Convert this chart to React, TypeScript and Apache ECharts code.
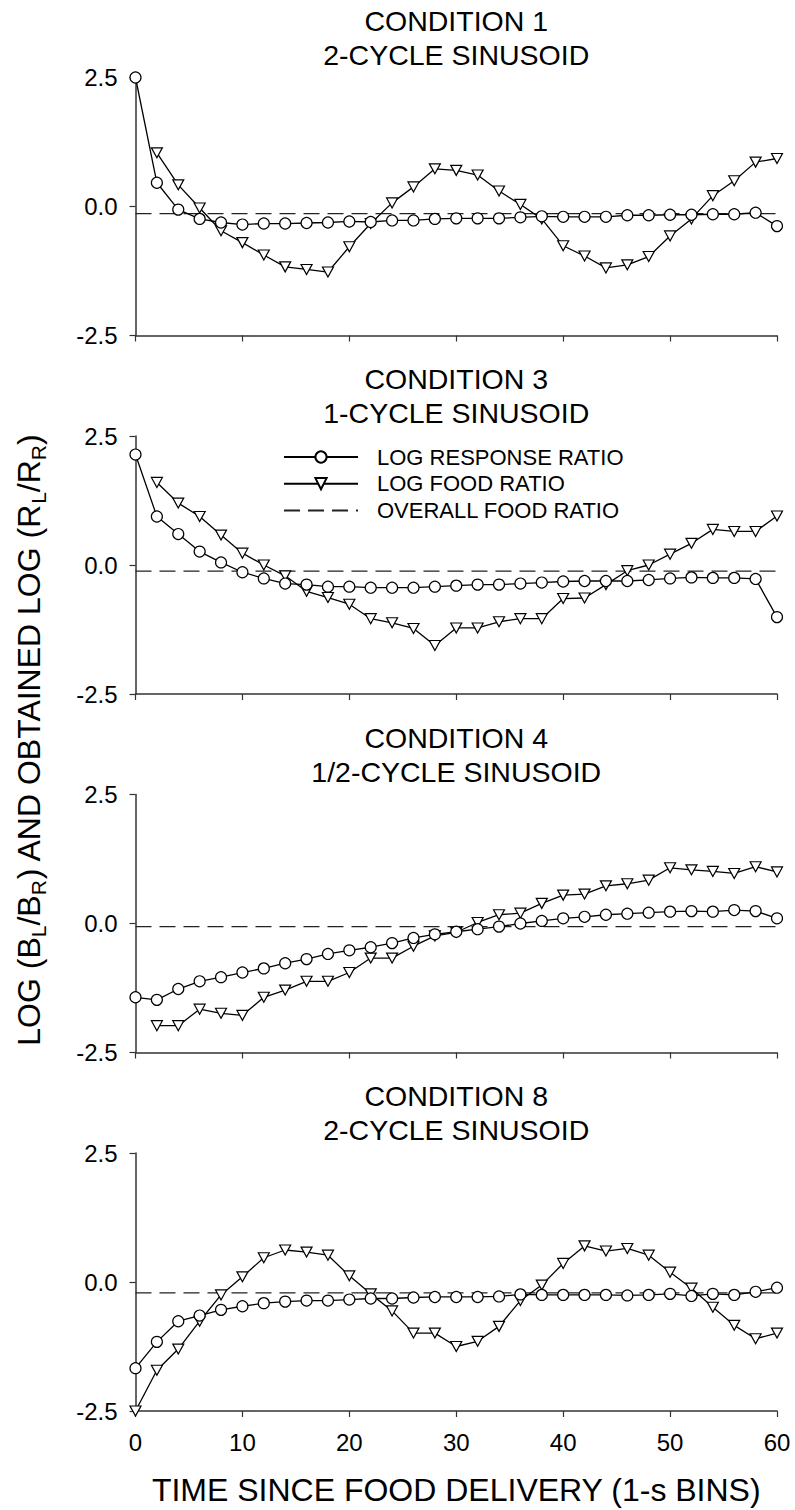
import React, { useEffect, useRef } from "react";
import * as echarts from "echarts";

// ---------- DATA ----------
const X_RESP = [0, 2, 4, 6, 8, 10, 12, 14, 16, 18, 20, 22, 24, 26, 28, 30, 32, 34, 36, 38, 40, 42, 44, 46, 48, 50, 52, 54, 56, 58, 60];
const X_FOOD = [2, 4, 6, 8, 10, 12, 14, 16, 18, 20, 22, 24, 26, 28, 30, 32, 34, 36, 38, 40, 42, 44, 46, 48, 50, 52, 54, 56, 58, 60];
const X_FOOD_C8 = [0, 2, 4, 6, 8, 10, 12, 14, 16, 18, 20, 22, 24, 26, 28, 30, 32, 34, 36, 38, 40, 42, 44, 46, 48, 50, 52, 54, 56, 58, 60];

const PANEL_TITLES = ["CONDITION 1", "CONDITION 3", "CONDITION 4", "CONDITION 8"];
const PANEL_SUBTITLES = ["2-CYCLE SINUSOID", "1-CYCLE SINUSOID", "1/2-CYCLE SINUSOID", "2-CYCLE SINUSOID"];

const C1_RESP = [2.5, 0.46, -0.06, -0.24, -0.31, -0.35, -0.33, -0.33, -0.32, -0.31, -0.29, -0.3, -0.27, -0.27, -0.24, -0.23, -0.23, -0.23, -0.21, -0.19, -0.2, -0.2, -0.2, -0.17, -0.17, -0.16, -0.16, -0.15, -0.15, -0.12, -0.38];
const C1_FOOD = [1.04, 0.42, -0.03, -0.47, -0.7, -0.94, -1.17, -1.22, -1.27, -0.78, -0.33, 0.07, 0.38, 0.73, 0.7, 0.61, 0.3, 0.04, -0.24, -0.76, -0.96, -1.19, -1.13, -0.97, -0.57, -0.24, 0.21, 0.5, 0.86, 0.93];
const C1_OVERALL = -0.14;

const C3_RESP = [2.14, 0.94, 0.6, 0.26, 0.05, -0.14, -0.26, -0.36, -0.38, -0.42, -0.42, -0.44, -0.44, -0.44, -0.42, -0.4, -0.38, -0.38, -0.36, -0.34, -0.32, -0.31, -0.31, -0.31, -0.29, -0.26, -0.24, -0.25, -0.25, -0.27, -1.01];
const C3_FOOD = [1.6, 1.2, 0.94, 0.58, 0.23, 0.0, -0.21, -0.51, -0.63, -0.76, -1.04, -1.12, -1.23, -1.56, -1.22, -1.22, -1.1, -1.04, -1.04, -0.65, -0.64, -0.38, -0.11, 0.0, 0.21, 0.42, 0.69, 0.65, 0.65, 0.95];
const C3_OVERALL = -0.12;

const C4_RESP = [-1.43, -1.48, -1.27, -1.12, -1.04, -0.95, -0.87, -0.77, -0.69, -0.59, -0.52, -0.46, -0.38, -0.28, -0.21, -0.16, -0.11, -0.06, 0.0, 0.05, 0.1, 0.13, 0.17, 0.19, 0.21, 0.23, 0.24, 0.23, 0.26, 0.24, 0.1];
const C4_FOOD = [-1.98, -1.98, -1.66, -1.74, -1.78, -1.43, -1.29, -1.12, -1.12, -0.95, -0.67, -0.67, -0.44, -0.24, -0.17, 0.02, 0.17, 0.2, 0.39, 0.55, 0.57, 0.73, 0.77, 0.84, 1.08, 1.04, 1.01, 0.97, 1.1, 1.0];
const C4_OVERALL = -0.06;

const C8_RESP = [-1.67, -1.16, -0.76, -0.65, -0.54, -0.47, -0.41, -0.38, -0.36, -0.36, -0.34, -0.32, -0.32, -0.3, -0.29, -0.29, -0.29, -0.28, -0.24, -0.25, -0.25, -0.25, -0.25, -0.26, -0.25, -0.23, -0.27, -0.23, -0.25, -0.19, -0.11];
const C8_FOOD = [-2.5, -1.71, -1.3, -0.76, -0.25, 0.1, 0.47, 0.62, 0.58, 0.52, 0.12, -0.23, -0.56, -0.99, -0.99, -1.25, -1.15, -0.86, -0.36, -0.06, 0.36, 0.7, 0.6, 0.65, 0.52, 0.19, -0.12, -0.49, -0.84, -1.1, -0.99];
const C8_OVERALL = -0.21;

const X_TICKS = [0, 10, 20, 30, 40, 50, 60];
const Y_TICKS = [-2.5, 0.0, 2.5];

const SERIES_NAMES = ["LOG RESPONSE RATIO", "LOG FOOD RATIO", "OVERALL FOOD RATIO"];
const X_TITLE = "TIME SINCE FOOD DELIVERY (1-s BINS)";

const PANELS = [
  { resp: C1_RESP, foodX: X_FOOD, food: C1_FOOD, overall: C1_OVERALL },
  { resp: C3_RESP, foodX: X_FOOD, food: C3_FOOD, overall: C3_OVERALL },
  { resp: C4_RESP, foodX: X_FOOD, food: C4_FOOD, overall: C4_OVERALL },
  { resp: C8_RESP, foodX: X_FOOD_C8, food: C8_FOOD, overall: C8_OVERALL },
];

// ---------- LAYOUT ----------
const W = 795;
const H = 1510;
const FONT = "'Liberation Sans', Arial, Helvetica, sans-serif";
const GRID_LEFT = 135.5;
const GRID_RIGHT = 18;
const GRID_TOPS = [77.5, 436, 794.5, 1153];
const GRID_H = 258;
const AXIS_COLOR = "#333";

export default function App() {
  const ref = useRef<HTMLDivElement>(null);

  useEffect(() => {
    if (!ref.current) return;
    const chart = echarts.init(ref.current, null, { renderer: "svg" });

    const grids = GRID_TOPS.map((t) => ({ left: GRID_LEFT, right: GRID_RIGHT, top: t, height: GRID_H }));

    const xAxes = GRID_TOPS.map((_, i) => ({
      type: "value",
      gridIndex: i,
      min: X_TICKS[0],
      max: X_TICKS[X_TICKS.length - 1],
      interval: 10,
      axisLine: { show: true, onZero: false, lineStyle: { color: AXIS_COLOR, width: 1.5 } },
      axisTick: { show: true, length: 6, lineStyle: { color: AXIS_COLOR, width: 1.2 } },
      axisLabel: { show: i === 3, fontSize: 24, color: "#000", fontFamily: FONT, margin: 19 },
      splitLine: { show: false },
    }));

    const yAxes = GRID_TOPS.map((_, i) => ({
      type: "value",
      gridIndex: i,
      min: Y_TICKS[0],
      max: Y_TICKS[Y_TICKS.length - 1],
      interval: 2.5,
      axisLine: { show: true, onZero: false, lineStyle: { color: AXIS_COLOR, width: 1.5 } },
      axisTick: { show: true, length: 6, lineStyle: { color: AXIS_COLOR, width: 1.2 } },
      axisLabel: {
        fontSize: 24,
        color: "#000",
        fontFamily: FONT,
        margin: 18,
        formatter: (v: number) => v.toFixed(1),
      },
      splitLine: { show: false },
    }));

    const series: any[] = [];
    PANELS.forEach((p, i) => {
      series.push({
        name: SERIES_NAMES[2],
        type: "line",
        xAxisIndex: i,
        yAxisIndex: i,
        data: [
          [X_TICKS[0], p.overall],
          [X_TICKS[X_TICKS.length - 1], p.overall],
        ],
        symbol: "none",
        lineStyle: { color: "#222", width: 1.3, type: [16, 8] },
        itemStyle: { color: "#222" },
        z: 1,
        silent: true,
      });
      series.push({
        name: SERIES_NAMES[1],
        type: "line",
        xAxisIndex: i,
        yAxisIndex: i,
        data: p.foodX.map((x, k) => [x, p.food[k]]),
        symbol: "triangle",
        symbolRotate: 180,
        symbolSize: [11, 10],
        lineStyle: { color: "#000", width: 1.3 },
        itemStyle: { color: "#fff", borderColor: "#000", borderWidth: 1.2 },
        z: 2,
        silent: true,
      });
      series.push({
        name: SERIES_NAMES[0],
        type: "line",
        xAxisIndex: i,
        yAxisIndex: i,
        data: X_RESP.map((x, k) => [x, p.resp[k]]),
        symbol: "circle",
        symbolSize: 11,
        lineStyle: { color: "#000", width: 1.3 },
        itemStyle: { color: "#fff", borderColor: "#000", borderWidth: 1.2 },
        z: 3,
        silent: true,
      });
    });

    const plotCenter = GRID_LEFT + (W - GRID_LEFT - GRID_RIGHT) / 2;
    const titleGraphics: any[] = [];
    GRID_TOPS.forEach((t, i) => {
      titleGraphics.push({
        type: "text",
        x: plotCenter,
        y: t - 57,
        style: { text: PANEL_TITLES[i], fontSize: 28.5, fontFamily: FONT, fill: "#000", align: "center", verticalAlign: "middle" },
      });
      titleGraphics.push({
        type: "text",
        x: plotCenter,
        y: t - 23,
        style: { text: PANEL_SUBTITLES[i], fontSize: 28.5, fontFamily: FONT, fill: "#000", align: "center", verticalAlign: "middle" },
      });
    });

    titleGraphics.push({
      type: "text",
      x: plotCenter,
      y: 1490,
      style: { text: X_TITLE, fontSize: 32, fontFamily: FONT, fill: "#000", align: "center", verticalAlign: "middle" },
    });

    titleGraphics.push({
      type: "text",
      x: 29,
      y: 740,
      rotation: Math.PI / 2,
      style: {
        text: "{a|LOG (B}{b|L}{a|/B}{b|R}{a|) AND OBTAINED LOG (R}{b|L}{a|/R}{b|R}{a|)}",
        align: "center",
        verticalAlign: "middle",
        rich: {
          a: { fontSize: 32, fontFamily: FONT, fill: "#000", lineHeight: 40 },
          b: { fontSize: 21, fontFamily: FONT, fill: "#000", lineHeight: 22, verticalAlign: "bottom" },
        },
      },
    });

    chart.setOption({
      animation: false,
      backgroundColor: "#fff",
      grid: grids,
      xAxis: xAxes,
      yAxis: yAxes,
      legend: {
        orient: "vertical",
        left: 283,
        top: 446,
        padding: 0,
        itemWidth: 74,
        itemHeight: 14,
        itemGap: 4.7,
        selectedMode: false,
        textStyle: { fontSize: 22, lineHeight: 22, fontFamily: FONT, color: "#000", padding: [0, 0, 0, 14] },
        data: [
          SERIES_NAMES[0],
          SERIES_NAMES[1],
          { name: SERIES_NAMES[2], itemStyle: { color: "rgba(0,0,0,0)", borderColor: "rgba(0,0,0,0)", borderWidth: 0 } },
        ],
      },
      graphic: titleGraphics,
      series,
    });

    return () => chart.dispose();
  }, []);

  return <div ref={ref} style={{ position: "absolute", left: 0, top: 0, width: W, height: H }} />;
}
